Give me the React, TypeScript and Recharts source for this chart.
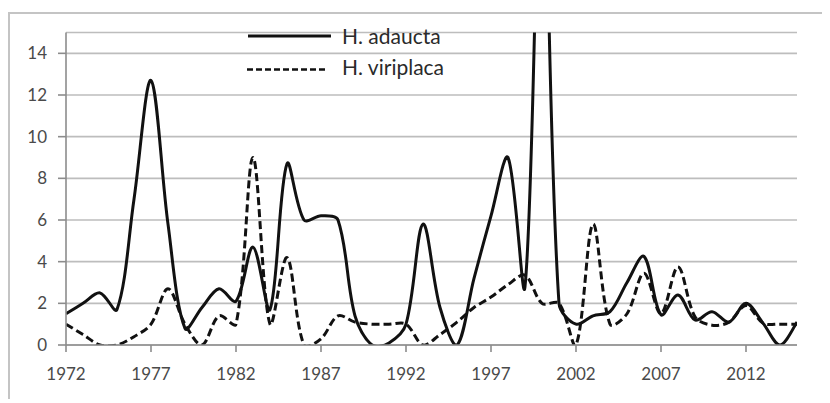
import React from "react";
import { LineChart, Line, XAxis, YAxis, CartesianGrid, Legend } from "recharts";

const years = [
  1972, 1973, 1974, 1975, 1976, 1977, 1978, 1979, 1980, 1981, 1982, 1983, 1984, 1985, 1986,
  1987, 1988, 1989, 1990, 1991, 1992, 1993, 1994, 1995, 1996, 1997, 1998, 1999, 2000, 2001,
  2002, 2003, 2004, 2005, 2006, 2007, 2008, 2009, 2010, 2011, 2012, 2013, 2014, 2015,
];
const adaucta = [
  1.5, 2.0, 2.5, 1.7, 7.0, 12.7, 5.8, 0.8, 1.8, 2.7, 2.1, 4.7, 1.7, 8.7, 6.0,
  6.2, 6.0, 1.4, 0, 0.1, 1.0, 5.8, 1.8, 0, 3.2, 6.2, 9.0, 2.8, 25, 2.0,
  1.0, 1.4, 1.6, 3.0, 4.25, 1.45, 2.4, 1.2, 1.6, 1.1, 2.0, 1.05, 0, 1.1,
];
const viriplaca = [
  1.0, 0.5, 0, 0, 0.4, 1.0, 2.7, 1.0, 0, 1.4, 1.0, 9.0, 1.0, 4.2, 0,
  0.3, 1.4, 1.1, 1.0, 1.0, 1.0, 0, 0.5, 1.1, 1.8, 2.3, 2.9, 3.35, 2.0, 2.0,
  0, 5.8, 1.0, 1.5, 3.45, 1.5, 3.75, 1.35, 0.95, 1.1, 1.9, 1.05, 1.0, 1.0,
];
const xTicks = [1972, 1977, 1982, 1987, 1992, 1997, 2002, 2007, 2012];
const yTicks = [0, 2, 4, 6, 8, 10, 12, 14];
const seriesNames = ["H. adaucta", "H. viriplaca"];

const data = years.map((y, i) => ({ year: y, adaucta: adaucta[i], viriplaca: viriplaca[i] }));

// Excel-like smoothing: Bezier with tangents scaled by neighbouring segment lengths
const smooth = (context: any) => {
  let xs: number[] = [];
  let ys: number[] = [];
  return {
    areaStart() {},
    areaEnd() {},
    lineStart() {
      xs = [];
      ys = [];
    },
    point(x: number, y: number) {
      xs.push(+x);
      ys.push(+y);
    },
    lineEnd() {
      const n = xs.length;
      if (!n) return;
      const dist = (i: number, j: number) => Math.hypot(xs[j] - xs[i], ys[j] - ys[i]) || 1e-6;
      context.moveTo(xs[0], ys[0]);
      const k = 1 / 3;
      for (let i = 0; i < n - 1; i++) {
        const a = Math.max(i - 1, 0);
        const d = Math.min(i + 2, n - 1);
        const d01 = i > 0 ? dist(a, i) : 0;
        const d12 = dist(i, i + 1);
        const d23 = i + 2 < n ? dist(i + 1, d) : 0;
        const f1 = i > 0 ? (d12 / (d01 + d12)) * k : k / 2;
        const f2 = i + 2 < n ? (d12 / (d12 + d23)) * k : k / 2;
        context.bezierCurveTo(
          xs[i] + (xs[i + 1] - xs[a]) * f1,
          ys[i] + (ys[i + 1] - ys[a]) * f1,
          xs[i + 1] - (xs[d] - xs[i]) * f2,
          ys[i + 1] - (ys[d] - ys[i]) * f2,
          xs[i + 1],
          ys[i + 1]
        );
      }
    },
  };
};

const FONT = "Lato, 'Open Sans', sans-serif";

const renderLegend = () => (
  <svg width={220} height={56} style={{ display: "block", overflow: "visible" }}>
    <line x1={2} x2={85} y1={8} y2={8} stroke="#111" strokeWidth={3} />
    <text x={96} y={16} fontFamily={FONT} fontSize={21} fill="#2a2a2a">
      {seriesNames[0]}
    </text>
    <line x1={1} x2={82} y1={41.5} y2={41.5} stroke="#111" strokeWidth={2.4} strokeDasharray="6 3" />
    <text x={96} y={47} fontFamily={FONT} fontSize={21} fill="#2a2a2a">
      {seriesNames[1]}
    </text>
  </svg>
);

export default function App() {
  return (
    <div
      style={{
        position: "relative",
        top: 4,
        width: 822,
        height: 391,
        borderTop: "2px solid #c4c4c4",
        borderLeft: "2px solid #c4c4c4",
        boxSizing: "border-box",
        background: "#fff",
      }}
    >
      <LineChart
        width={820}
        height={386}
        data={data}
        margin={{ top: 18.5, right: 33, bottom: 25, left: 0 }}
      >
        <CartesianGrid vertical={false} stroke="#bdbdbd" strokeWidth={1.6} />
        <XAxis
          dataKey="year"
          type="number"
          domain={[1972, 2015]}
          ticks={xTicks}
          allowDataOverflow
          height={30}
          stroke="#8c8c8c"
          strokeWidth={1.6}
          tickSize={7}
          tickMargin={16}
          tick={{ fill: "#4a4a4a", fontSize: 17, fontFamily: FONT }}
        />
        <YAxis
          type="number"
          domain={[0, 15]}
          ticks={yTicks}
          allowDataOverflow
          width={56}
          stroke="#8c8c8c"
          strokeWidth={1.6}
          tickSize={8}
          tickMargin={11}
          tick={{ fill: "#4a4a4a", fontSize: 17, fontFamily: FONT }}
        />
        <Legend
          layout="vertical"
          align="center"
          verticalAlign="middle"
          content={renderLegend}
          wrapperStyle={{ left: 236, top: 14, width: 220, height: 56 }}
        />
        <Line
          dataKey="viriplaca"
          name={seriesNames[1]}
          type={smooth as any}
          stroke="#111"
          strokeWidth={3}
          strokeDasharray="8 4"
          dot={false}
          isAnimationActive={false}
        />
        <Line
          dataKey="adaucta"
          name={seriesNames[0]}
          type={smooth as any}
          stroke="#111"
          strokeWidth={3}
          dot={false}
          isAnimationActive={false}
        />
      </LineChart>
    </div>
  );
}
